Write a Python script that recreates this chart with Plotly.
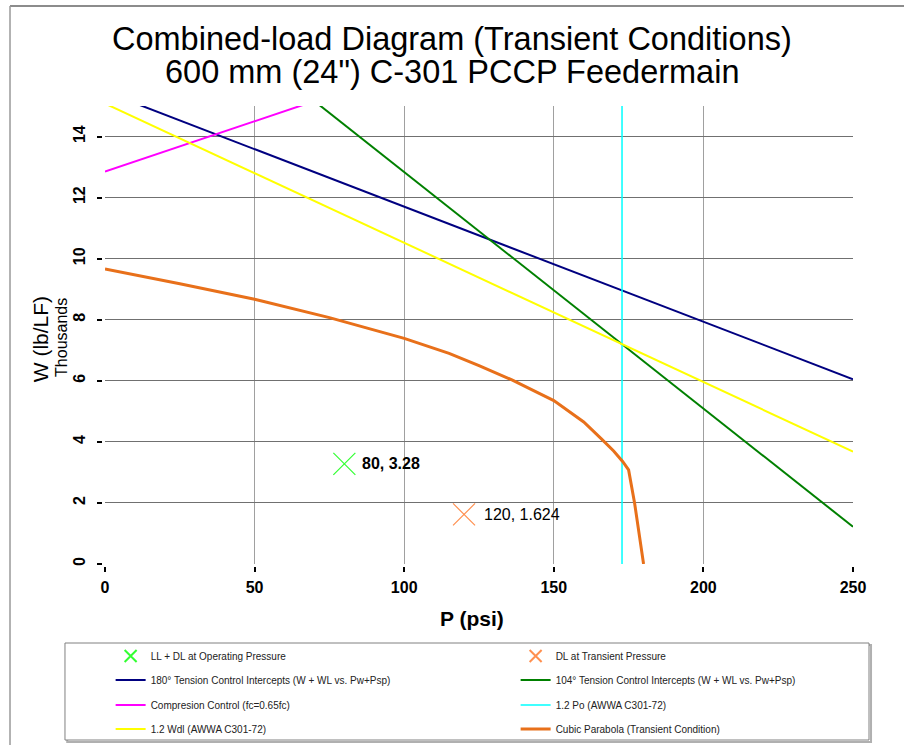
import plotly.graph_objects as go

# ---- data -------------------------------------------------------------
# design points (P in psi, W in thousands of lb/LF)
ops_p = [80]
ops_w = [3.28]
trans_p = [120]
trans_w = [1.624]

# 180 deg tension control intercepts
t180_p = [0, 250]
t180_w = [15.47, 6.05]

# 104 deg tension control intercepts
t104_p = [70, 250]
t104_w = [15.16, 1.22]

# compression control
comp_p = [0, 70]
comp_w = [12.85, 15.16]

# 1.2 Po limit
po_p = [172.8, 172.8]
po_w = [0, 15]

# 1.2 Wdl
wdl_p = [0, 250]
wdl_w = [15.08, 3.68]

# cubic parabola (transient condition)
cubic_p = [0, 25, 50, 75, 100, 115, 125, 136, 150, 160, 166, 170, 173, 175, 177, 180]
cubic_w = [9.66, 9.18, 8.67, 8.07, 7.39, 6.90, 6.50, 6.03, 5.35, 4.65, 4.09, 3.70, 3.36, 3.08, 2.0, 0.0]

x_ticks = [0, 50, 100, 150, 200, 250]
y_ticks = [0, 2, 4, 6, 8, 10, 12, 14]

FONT = "Liberation Sans, Arial, sans-serif"

fig = go.Figure()

# row 1 of the key
fig.add_trace(go.Scatter(
    x=ops_p, y=ops_w, mode="markers", name="LL + DL at Operating Pressure",
    marker=dict(symbol="x-thin", size=22, color="#33ff33", line=dict(width=1.2, color="#33ff33")),
    legend="legend", zorder=5))
fig.add_trace(go.Scatter(
    x=trans_p, y=trans_w, mode="markers", name="DL at Transient Pressure",
    marker=dict(symbol="x-thin", size=22, color="#ff9050", line=dict(width=1.2, color="#ff9050")),
    legend="legend", zorder=5))

# row 2
fig.add_trace(go.Scatter(
    x=t180_p, y=t180_w, mode="lines",
    name="180° Tension Control Intercepts (W + WL vs. Pw+Psp)",
    line=dict(color="#000080", width=2), legend="legend2"))
fig.add_trace(go.Scatter(
    x=t104_p, y=t104_w, mode="lines",
    name="104° Tension Control Intercepts (W + WL vs. Pw+Psp)",
    line=dict(color="#008000", width=2), legend="legend2"))

# row 3
fig.add_trace(go.Scatter(
    x=comp_p, y=comp_w, mode="lines", name="Compresion Control (fc=0.65fc)",
    line=dict(color="#ff00ff", width=2), legend="legend3"))
fig.add_trace(go.Scatter(
    x=po_p, y=po_w, mode="lines", name="1.2 Po (AWWA C301-72)",
    line=dict(color="#00ffff", width=1.5), legend="legend3"))

# row 4
fig.add_trace(go.Scatter(
    x=wdl_p, y=wdl_w, mode="lines", name="1.2 Wdl (AWWA C301-72)",
    line=dict(color="#ffff00", width=2), legend="legend4"))
fig.add_trace(go.Scatter(
    x=cubic_p, y=cubic_w, mode="lines", name="Cubic Parabola (Transient Condition)",
    line=dict(color="#e8701a", width=3), legend="legend4"))

# point labels
fig.add_annotation(x=ops_p[0], y=ops_w[0], text=f"{ops_p[0]}, {ops_w[0]}",
                   showarrow=False, xanchor="left", yanchor="middle", xshift=16,
                   font=dict(family=FONT, size=16, color="black", weight="bold"))
fig.add_annotation(x=trans_p[0], y=trans_w[0], text=f"{trans_p[0]}, {trans_w[0]}",
                   showarrow=False, xanchor="left", yanchor="middle", xshift=18,
                   font=dict(family=FONT, size=16, color="black"))

# titles
fig.add_annotation(xref="paper", yref="paper", x=0.464, y=1.146,
                   text="Combined-load Diagram (Transient Conditions)", showarrow=False,
                   xanchor="center", yanchor="middle",
                   font=dict(family=FONT, size=32.5, color="black"))
fig.add_annotation(xref="paper", yref="paper", x=0.464, y=1.074,
                   text="600 mm (24\") C-301 PCCP Feedermain", showarrow=False,
                   xanchor="center", yanchor="middle",
                   font=dict(family=FONT, size=32.5, color="black"))
fig.add_annotation(xref="paper", yref="paper", x=0.49, y=-0.118,
                   text="<b>P (psi)</b>", showarrow=False,
                   xanchor="center", yanchor="middle",
                   font=dict(family=FONT, size=21, color="black"))
fig.add_annotation(xref="paper", yref="paper", x=-0.086, y=0.49,
                   text="W (lb/LF)", textangle=-90, showarrow=False,
                   xanchor="center", yanchor="middle",
                   font=dict(family=FONT, size=21, color="black"))
fig.add_annotation(xref="paper", yref="paper", x=-0.058, y=0.495,
                   text="Thousands", textangle=-90, showarrow=False,
                   xanchor="center", yanchor="middle",
                   font=dict(family=FONT, size=16, color="black"))

# chart frame and key box
fig.add_shape(type="line", xref="paper", yref="paper", x0=-0.127, x1=1.07, y0=1.2183, y1=1.2183,
              line=dict(color="#666666", width=1.5))
fig.add_shape(type="line", xref="paper", yref="paper", x0=-0.127, x1=-0.127, y0=-0.40, y1=1.2183,
              line=dict(color="#999999", width=1.5))
fig.add_shape(type="rect", xref="paper", yref="paper", x0=-0.0505, x1=1.0241, y0=-0.3887, y1=-0.1769,
              line=dict(color="#b0b0b0", width=2), layer="below")
fig.add_shape(type="rect", xref="paper", yref="paper", x0=-0.0535, x1=1.0214, y0=-0.3843, y1=-0.1725,
              line=dict(color="#808080", width=1), fillcolor="white", layer="below")

legend_common = dict(orientation="h", entrywidth=360, entrywidthmode="pixels",
                     xanchor="left", yanchor="middle", x=-0.0005,
                     bgcolor="rgba(0,0,0,0)", borderwidth=6, bordercolor="rgba(0,0,0,0)",
                     font=dict(family=FONT, size=10, color="#222222"))

fig.update_layout(
    width=904, height=745,
    margin=dict(l=105, r=51, t=106, b=181, autoexpand=False),
    paper_bgcolor="white", plot_bgcolor="white",
    font=dict(family=FONT, color="black"),
    legend=dict(y=-0.2009, itemsizing="constant", **legend_common),
    legend2=dict(y=-0.2533, **legend_common),
    legend3=dict(y=-0.3079, **legend_common),
    legend4=dict(y=-0.3603, **legend_common),
    xaxis=dict(range=[0, 250], tickvals=x_ticks, ticktext=[str(v) for v in x_ticks],
               showgrid=True, gridcolor="#a0a0a0", gridwidth=1,
               showline=True, linecolor="black", linewidth=3,
               ticks="outside", ticklen=5, tickwidth=2, tickcolor="black",
               zeroline=False, ticklabelstandoff=2,
               tickfont=dict(family=FONT, size=16, color="black", weight="bold")),
    yaxis=dict(range=[0, 15], tickvals=y_ticks, ticktext=[str(v) for v in y_ticks],
               showgrid=True, gridcolor="#707070", gridwidth=1,
               showline=True, linecolor="black", linewidth=3,
               ticks="outside", ticklen=5, tickwidth=2, tickcolor="black",
               zeroline=False, tickangle=-90, ticklabelstandoff=6,
               tickfont=dict(family=FONT, size=16, color="black", weight="bold")),
)

fig.write_html("out.html")
